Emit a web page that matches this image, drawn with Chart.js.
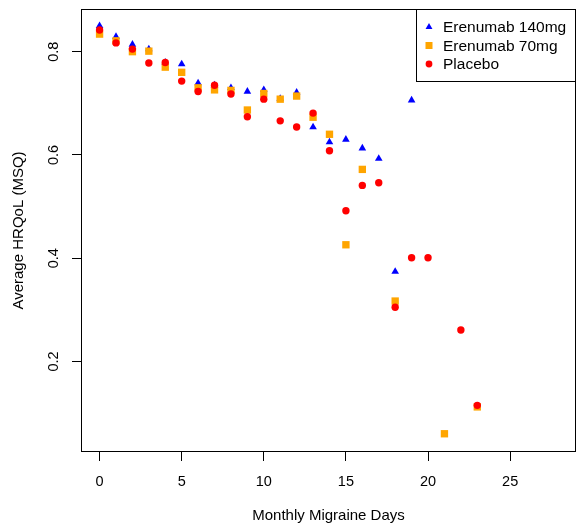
<!DOCTYPE html>
<html>
<head>
<meta charset="utf-8">
<script src="https://cdn.jsdelivr.net/npm/chart.js@4/dist/chart.umd.min.js"></script>
<style>
  html, body { margin: 0; padding: 0; background: #fff; }
  #wrap { width: 577px; height: 528px; position: relative; }
</style>
</head>
<body>
<div id="wrap"><canvas id="chart"></canvas></div>
<script>
// Monthly migraine days vs average HRQoL (MSQ), three arms
const days140 = [0, 1, 2, 3, 4, 5, 6, 7, 8, 9, 10, 11, 12, 13, 14, 15, 16, 17, 18, 19];
const msq140  = [0.850, 0.829, 0.814, 0.805, 0.779, 0.776, 0.739, 0.735, 0.730, 0.723, 0.726, 0.709, 0.721, 0.654, 0.625, 0.630, 0.613, 0.593, 0.374, 0.706];

const days70 = [0, 1, 2, 3, 4, 5, 6, 7, 8, 9, 10, 11, 12, 13, 14, 15, 16, 18, 21, 23];
const msq70  = [0.834, 0.821, 0.800, 0.801, 0.770, 0.760, 0.730, 0.726, 0.725, 0.687, 0.719, 0.708, 0.714, 0.673, 0.640, 0.426, 0.572, 0.317, 0.060, 0.112];

const daysPbo = [0, 1, 2, 3, 4, 5, 6, 7, 8, 9, 10, 11, 12, 13, 14, 15, 16, 17, 18, 19, 20, 22, 23];
const msqPbo  = [0.842, 0.817, 0.805, 0.778, 0.779, 0.743, 0.723, 0.735, 0.718, 0.674, 0.708, 0.666, 0.654, 0.681, 0.608, 0.492, 0.541, 0.546, 0.305, 0.401, 0.401, 0.261, 0.115];

const seriesNames = ['Erenumab 140mg', 'Erenumab 70mg', 'Placebo'];
const xTicks = [0, 5, 10, 15, 20, 25];
const yTicks = [0.2, 0.4, 0.6, 0.8];

const BLUE = '#0000ff', ORANGE = '#ffa500', RED = '#ff0000';
const FONT = '"Liberation Sans", Arial, sans-serif';

function pts(xs, ys) { return xs.map((x, i) => ({ x: x, y: ys[i] })); }

// R-style box around the plot + legend box in the top right
const boxPlugin = {
    id: 'rbox',
    afterDraw(chart) {
        const ctx = chart.ctx, a = chart.chartArea;
        ctx.save();
        ctx.strokeStyle = '#000';
        ctx.lineWidth = 1;
        ctx.strokeRect(Math.round(a.left) - 0.5, Math.round(a.top) - 0.5, Math.round(a.right - a.left) + 1, Math.round(a.bottom - a.top) + 1);

        // legend
        const lx = 416.5, ly = 9.5, lw = Math.round(a.right) + 0.5 - lx, lh = 72;
        ctx.fillStyle = '#fff';
        ctx.fillRect(lx, ly, lw, lh);
        ctx.strokeRect(lx, ly, lw, lh);
        const rows = [27, 45.5, 64];
        const cols = [BLUE, ORANGE, RED];
        const mx = 429;
        rows.forEach((y, i) => {
            ctx.fillStyle = cols[i];
            ctx.beginPath();
            if (i === 0) {
                const r = 4;
                ctx.moveTo(mx, y - r);
                ctx.lineTo(mx + r * 0.866, y + r / 2);
                ctx.lineTo(mx - r * 0.866, y + r / 2);
                ctx.closePath();
            } else if (i === 1) {
                ctx.rect(mx - 3.5, y - 3.5, 7, 7);
            } else {
                ctx.arc(mx, y, 3.4, 0, Math.PI * 2);
            }
            ctx.fill();
            ctx.fillStyle = '#000';
            ctx.font = '15.5px ' + FONT;
            ctx.textBaseline = 'middle';
            ctx.textAlign = 'left';
            ctx.fillText(seriesNames[i], 443, y + 1);
        });
        ctx.restore();
    }
};

new Chart(document.getElementById('chart'), {
    type: 'scatter',
    data: {
        datasets: [
            { label: seriesNames[0], data: pts(days140, msq140), pointStyle: 'triangle', pointRadius: 4.4, backgroundColor: BLUE, borderColor: BLUE, pointBorderWidth: 0, order: 3 },
            { label: seriesNames[1], data: pts(days70, msq70), pointStyle: 'rect', pointRadius: 5.2, backgroundColor: ORANGE, borderColor: ORANGE, pointBorderWidth: 0, order: 2 },
            { label: seriesNames[2], data: pts(daysPbo, msqPbo), pointStyle: 'circle', pointRadius: 3.7, backgroundColor: RED, borderColor: RED, pointBorderWidth: 0, order: 1 }
        ]
    },
    options: {
        responsive: true,
        maintainAspectRatio: false,
        animation: false,
        events: [],
        layout: { autoPadding: false, padding: { left: 0, top: 10, right: 2, bottom: 0 } },
        plugins: { legend: { display: false }, tooltip: { enabled: false } },
        scales: {
            x: {
                type: 'linear',
                min: -1.07, max: 28.95,
                afterBuildTicks: s => { s.ticks = xTicks.map(v => ({ value: v })); },
                afterFit: s => { s.height = 77; s.paddingLeft = 0; s.paddingRight = 0; },
                grid: { drawOnChartArea: false, tickLength: 10, tickColor: '#000', tickWidth: 1 },
                border: { display: false },
                ticks: { color: '#000', font: { family: FONT, size: 14.5 }, padding: 12, maxRotation: 0 },
                title: { display: true, text: 'Monthly Migraine Days', color: '#000', font: { family: FONT, size: 15 }, padding: { top: 0, bottom: 3 } }
            },
            y: {
                type: 'linear',
                min: 0.0266, max: 0.8807,
                afterBuildTicks: s => { s.ticks = yTicks.map(v => ({ value: v })); },
                afterFit: s => { s.width = 82; s.paddingTop = 0; s.paddingBottom = 0; },
                grid: { drawOnChartArea: false, tickLength: 10, tickColor: '#000', tickWidth: 1 },
                border: { display: false },
                ticks: { color: '#000', font: { family: FONT, size: 14.5 }, padding: 8, minRotation: 90, maxRotation: 90, crossAlign: 'center' },
                title: { display: true, text: 'Average HRQoL (MSQ)', color: '#000', font: { family: FONT, size: 15 }, padding: { top: 10, bottom: 0 } }
            }
        }
    },
    plugins: [boxPlugin]
});
</script>
</body>
</html>
